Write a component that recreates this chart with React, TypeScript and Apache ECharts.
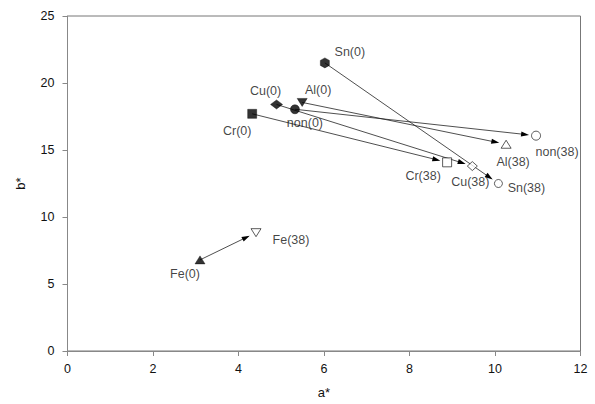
import React, { useEffect, useRef } from "react";
import * as echarts from "echarts";

// Samples (treatment name), values at 0 and at 38
const samples = ["Sn", "Cu", "Al", "non", "Cr", "Fe"];
const a0 = [6.02, 4.89, 5.49, 5.32, 4.32, 3.1];
const b0 = [21.5, 18.4, 18.55, 18.04, 17.7, 6.8];
const a38 = [10.08, 9.47, 10.26, 10.96, 8.88, 4.41];
const b38 = [12.5, 13.8, 15.43, 16.07, 14.08, 8.83];
const xTicks = [0, 2, 4, 6, 8, 10, 12];
const yTicks = [0, 5, 10, 15, 20, 25];

// Styling / layout (not data)
const HEX = "path://M5,0 L9.33,2.5 L9.33,7.5 L5,10 L0.67,7.5 L0.67,2.5 Z";
const sym0 = [
  { symbol: HEX, size: [9, 10], rotate: 0 },
  { symbol: "diamond", size: [12, 9], rotate: 0 },
  { symbol: "triangle", size: [10, 8], rotate: 180 },
  { symbol: "circle", size: 9, rotate: 0 },
  { symbol: "rect", size: 9, rotate: 0 },
  { symbol: "triangle", size: [10, 8], rotate: 0 },
];
const sym38 = [
  { symbol: "circle", size: 8, rotate: 0 },
  { symbol: "diamond", size: [10, 9], rotate: 0 },
  { symbol: "triangle", size: [10, 8], rotate: 0 },
  { symbol: "circle", size: 9, rotate: 0 },
  { symbol: "rect", size: 9, rotate: 0 },
  { symbol: "triangle", size: [10, 8], rotate: 180 },
];
const off0 = [[25, -11], [-11, -13], [16, -12], [10, 14], [-15, 17], [-15, 14]];
const off38 = [[28, 4], [-2, 16], [7, 18], [21, 16], [-24, 14], [35, 7]];

const FONT = "'Liberation Sans', Arial, sans-serif";
const GAP = 7;
const HEAD = 8;
const HALF_W = 2.6;

export default function App() {
  const ref = useRef<HTMLDivElement>(null);
  useEffect(() => {
    if (!ref.current) return;
    const chart = echarts.init(ref.current, undefined, { renderer: "svg" });

    const pts0 = samples.map((s, i) => ({
      value: [a0[i], b0[i]],
      name: `${s}(0)`,
      symbol: sym0[i].symbol,
      symbolSize: sym0[i].size,
      symbolRotate: sym0[i].rotate,
      itemStyle: { color: "#000", borderColor: "#000", borderWidth: 0.5 },
      label: { offset: off0[i] },
    }));
    const pts38 = samples.map((s, i) => ({
      value: [a38[i], b38[i]],
      name: `${s}(38)`,
      symbol: sym38[i].symbol,
      symbolSize: sym38[i].size,
      symbolRotate: sym38[i].rotate,
      itemStyle: { color: "#fff", borderColor: "#000", borderWidth: 0.8 },
      label: { offset: off38[i] },
    }));
    const arrows = samples.map((_, i) => [a0[i], b0[i], a38[i], b38[i]]);

    chart.setOption({
      animation: false,
      backgroundColor: "#fff",
      textStyle: { fontFamily: FONT },
      grid: {
        left: 67.5,
        right: 14.5,
        top: 16,
        bottom: 53,
        show: true,
        borderColor: "#777",
        borderWidth: 1,
      },
      xAxis: {
        type: "value",
        min: xTicks[0],
        max: xTicks[xTicks.length - 1],
        interval: xTicks[1] - xTicks[0],
        name: "a*",
        nameLocation: "middle",
        nameGap: 35,
        nameTextStyle: { color: "#111", fontSize: 13, fontFamily: FONT },
        splitLine: { show: false },
        axisLine: { lineStyle: { color: "#888", width: 1 } },
        axisTick: { inside: false, length: 5, lineStyle: { color: "#888" } },
        axisLabel: { color: "#111", fontSize: 12.5, margin: 11, fontFamily: FONT },
      },
      yAxis: {
        type: "value",
        min: yTicks[0],
        max: yTicks[yTicks.length - 1],
        interval: yTicks[1] - yTicks[0],
        name: "b*",
        nameLocation: "middle",
        nameGap: 41,
        nameRotate: 90,
        nameTextStyle: { color: "#111", fontSize: 13, fontFamily: FONT },
        splitLine: { show: false },
        axisLine: { lineStyle: { color: "#888", width: 1 } },
        axisTick: { inside: false, length: 5, lineStyle: { color: "#888" } },
        axisLabel: { color: "#111", fontSize: 12.5, margin: 13, fontFamily: FONT },
      },
      series: [
        {
          type: "custom",
          z: 1,
          data: arrows,
          encode: { x: [0, 2], y: [1, 3] },
          renderItem: (params: any, api: any) => {
            const p1 = api.coord([api.value(0), api.value(1)]);
            const p2 = api.coord([api.value(2), api.value(3)]);
            const dx = p2[0] - p1[0];
            const dy = p2[1] - p1[1];
            const len = Math.hypot(dx, dy);
            const ux = dx / len;
            const uy = dy / len;
            const tip = [p2[0] - ux * GAP, p2[1] - uy * GAP];
            const base = [tip[0] - ux * HEAD, tip[1] - uy * HEAD];
            const nx = -uy;
            const ny = ux;
            return {
              type: "group",
              children: [
                {
                  type: "line",
                  shape: { x1: p1[0], y1: p1[1], x2: base[0] + ux * 2, y2: base[1] + uy * 2 },
                  style: { stroke: "#222", lineWidth: 0.8 },
                },
                {
                  type: "polygon",
                  shape: {
                    points: [
                      tip,
                      [base[0] + nx * HALF_W, base[1] + ny * HALF_W],
                      [base[0] - nx * HALF_W, base[1] - ny * HALF_W],
                    ],
                  },
                  style: { fill: "#000" },
                },
              ],
            };
          },
        },
        {
          type: "scatter",
          z: 3,
          data: [...pts0, ...pts38],
          label: {
            show: true,
            position: "inside",
            formatter: (p: any) => p.name,
            color: "#111",
            fontSize: 12.5,
            fontFamily: FONT,
            align: "center",
            verticalAlign: "middle",
          },
          emphasis: { disabled: true },
        },
      ],
    });
    return () => chart.dispose();
  }, []);
  return (
    <div
      ref={ref}
      style={{ position: "fixed", left: 0, top: 0, width: 595, height: 404 }}
    />
  );
}
